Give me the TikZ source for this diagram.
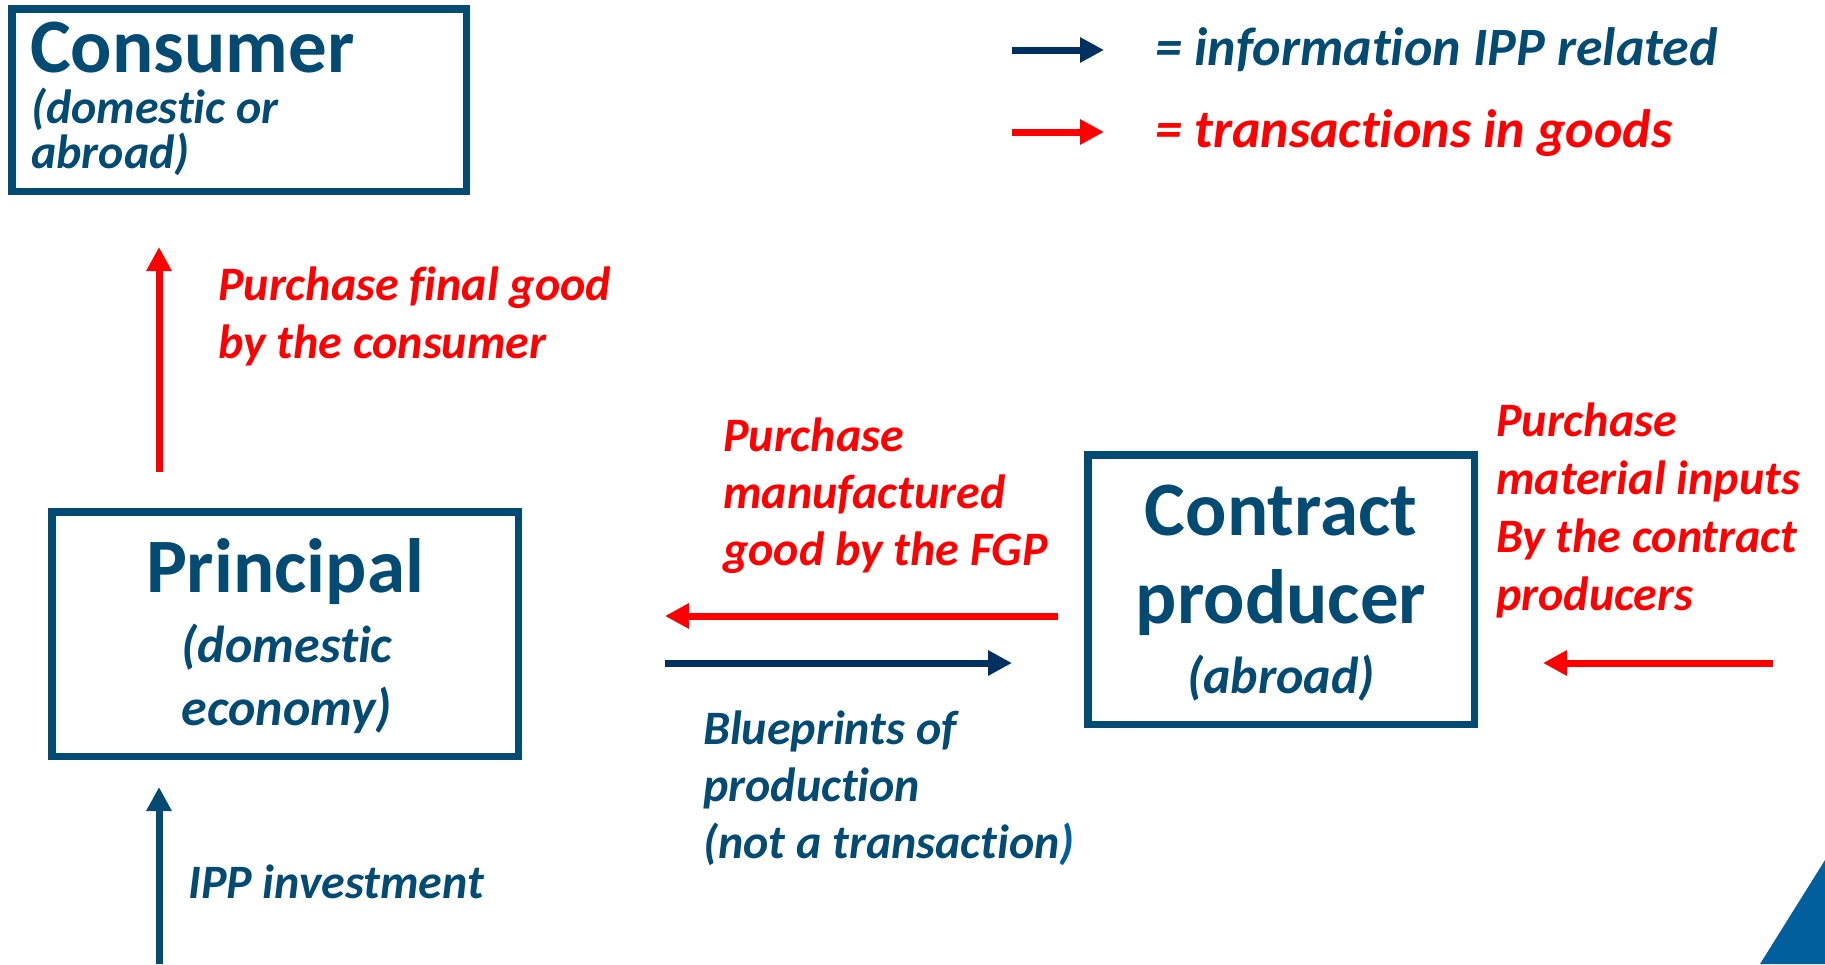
\documentclass[tikz,border=0pt]{standalone}
\usepackage{fontspec}
\setmainfont[Ligatures=NoCommon]{Carlito}
\usetikzlibrary{arrows.meta}

\definecolor{boxblue}{HTML}{044B74}
\definecolor{infoblue}{HTML}{00305F}
\definecolor{goodsred}{HTML}{FF0000}
\definecolor{cornerblue}{HTML}{005F9C}

\begin{document}
\begin{tikzpicture}[x=1pt, y=-1pt,
    entity/.style={draw=boxblue, line width=7.5pt, anchor=north west, inner sep=0pt, outer sep=0pt},
    title/.style={text=boxblue, font=\fontsize{77}{88}\selectfont\bfseries, inner sep=0pt, anchor=base},
    sub/.style={text=boxblue, font=\fontsize{52}{63}\selectfont\bfseries\itshape, inner sep=0pt, align=center, anchor=base},
    bluelabel/.style={text=boxblue, font=\fontsize{48}{57}\selectfont\bfseries\itshape, inner sep=0pt, align=left, anchor=base west},
    redlabel/.style={bluelabel, text=goodsred, font=\fontsize{48}{58}\selectfont\bfseries\itshape},
    legend/.style={inner sep=0pt, anchor=base west, font=\fontsize{54}{64}\selectfont\bfseries\itshape},
    info/.style={draw=infoblue, line width=7pt, -{Triangle[length=24pt, width=24pt]}},
    ipp/.style={info, draw=boxblue},
    goods/.style={info, draw=goodsred}
    ]
    \useasboundingbox (0,0) rectangle (1825,964);

    % boxes
    \node[entity, minimum width=454.5pt, minimum height=182.5pt] (consumer) at (11.75,8.75) {};
    \node[entity, minimum width=466.5pt, minimum height=244.5pt] (principal) at (51.75,511.75) {};
    \node[entity, minimum width=386.5pt, minimum height=269.5pt] (contract) at (1087.75,454.75) {};

    % box texts (multi-line nodes sit on their last baseline)
    \node[title, anchor=base west] (consumer-t) at (30,72) {Consumer};
    \node[sub, anchor=base west, align=left, font=\fontsize{48}{45}\selectfont\bfseries\itshape] (consumer-s) at (31,168) {(domestic or\\abroad)};
    \node[title] (principal-t) at (285,592) {Principal};
    \node[sub] (principal-s) at (287,725) {(domestic\\economy)};
    \node[title] (contract-t) at (1281,535) {Contract};
    \node[title] (contract-t2) at (1281,623) {producer};
    \node[sub] (contract-s) at (1281,693) {(abroad)};

    % arrow ends
    \coordinate (fg-a) at (159,472);  \coordinate (fg-b) at (159,247);
    \coordinate (ipp-a) at (159,964); \coordinate (ipp-b) at (159,787);
    \coordinate (mf-a) at (1058,616); \coordinate (mf-b) at (665,616);
    \coordinate (bp-a) at (665,663);  \coordinate (bp-b) at (1012,663);
    \coordinate (mi-a) at (1773,663); \coordinate (mi-b) at (1543,663);
    \coordinate (lg1-a) at (1012,50); \coordinate (lg1-b) at (1104,50);
    \coordinate (lg2-a) at (1012,132); \coordinate (lg2-b) at (1104,132);

    \draw[goods] (fg-a) -- (fg-b);
    \draw[ipp] (ipp-a) -- (ipp-b);
    \draw[goods] (mf-a) -- (mf-b);
    \draw[info] (bp-a) -- (bp-b);
    \draw[goods] (mi-a) -- (mi-b);
    \draw[info] (lg1-a) -- (lg1-b);
    \draw[goods] (lg2-a) -- (lg2-b);

    % arrow labels
    \node[redlabel] (fg-l) at (218,358) {Purchase final good\\by the consumer};
    \node[bluelabel] (ipp-l) at (188,898) {IPP investment};
    \node[redlabel, font=\fontsize{48}{57}\selectfont\bfseries\itshape] (mf-l) at (723,565) {Purchase\\manufactured\\good by the FGP};
    \node[bluelabel] (bp-l) at (703,858) {Blueprints of\\production\\(not a transaction{\color{cornerblue})}};
    \node[redlabel] (mi-l) at (1496,610) {Purchase\\material inputs\\By the contract\\producers};

    % legend
    \node[legend, text=boxblue] (lg1-l) at (1155,65) {= information IPP related};
    \node[legend, text=goodsred] (lg2-l) at (1155,147) {= transactions in goods};

    % corner
    \fill[cornerblue] (1825,860) -- (1825,964) -- (1760,964) -- cycle;
  \end{tikzpicture}
\end{document}
